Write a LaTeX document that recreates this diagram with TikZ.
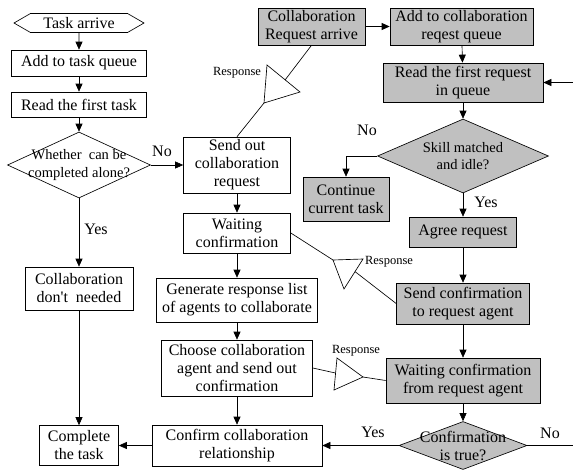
\documentclass[tikz,border=0pt]{standalone}
\usepackage{fontspec}
\setmainfont{Liberation Serif}
\usetikzlibrary{shapes.geometric,shapes.symbols,arrows.meta,calc}
\definecolor{boxgray}{RGB}{192,192,192}
\begin{document}
\begin{tikzpicture}[x=1pt, y=-1pt, line width=0.65pt, font=\fontsize{16}{18}\selectfont,
  box/.style={draw, rectangle, align=center, inner sep=1pt},
  dec/.style={draw, diamond, inner sep=0pt},
  dectext/.style={align=center, font=\fontsize{14.5}{17.5}\selectfont},
  arr/.style={-{Triangle[length=8pt,width=7pt]}},
  resp/.style={font=\fontsize{12.5}{14}\selectfont}]
\useasboundingbox (0,0) rectangle (573,469);
\node[draw, signal, signal to=west and east, signal pointer angle=60, minimum width=130pt, minimum height=19pt, inner sep=1pt] (arrive) at (79,23) {Task arrive};
\foreach \nm/\fc/\x/\y/\w/\h/\txt in {
    addq/white/79/63/135/26/{Add to task queue},
    readt/white/79/104.5/135/25/{Read the first task},
    noneed/white/79/288.5/108/43/{Collaboration\\don\textquotesingle t\ \ needed},
    complete/white/79/445.5/79/40/{Complete\\the task},
    sendreq/white/237/165/107/56/{Send out\\collaboration\\request},
    waitc/white/237/233/107/40/{Waiting\\confirmation},
    genlist/white/237/300/161/44/{Generate response list\\of agents to collaborate},
    choose/white/237/368/151/56/{Choose collaboration\\agent and send out\\confirmation},
    confirmrel/white/237/445.5/170/41/{Confirm collaboration\\relationship},
    reqarr/boxgray/311.5/26.5/107/37/{Collaboration\\Request arrive},
    addcq/boxgray/461.5/26.5/143/37/{Add to collaboration\\reqest queue},
    readreq/boxgray/463/82.5/160/39/{Read the first request\\in queue},
    cont/boxgray/346/199/86/44/{Continue\\current task},
    agree/boxgray/463/232/107/30/{Agree request},
    sendconf/boxgray/463/303.5/133/41/{Send confirmation\\to request agent},
    waitreq/boxgray/463/380.5/154/45/{Waiting confirmation\\from request agent}}
  \node[box, fill=\fc, minimum width=\w pt, minimum height=\h pt] (\nm) at (\x,\y) {\txt};
\node[dec, minimum width=143pt, minimum height=66pt, label={[dectext, name=alonetxt]center:{Whether\ \ can be\\completed alone?}}] (alone) at (79,165) {};
\node[dec, fill=boxgray, minimum width=171pt, minimum height=74pt, label={[dectext, name=skilltxt]center:{Skill matched\\and idle?}}] (skill) at (463,156) {};
\node[dec, fill=boxgray, minimum width=128pt, minimum height=48pt, label={[align=center, name=conftxt]center:{Confirmation\\is true?}}] (conftrue) at (463,445.5) {};
\foreach \a/\b in {arrive/addq, addq/readt, readt/alone, alone/noneed, noneed/complete, alone/sendreq,
    sendreq/waitc, waitc/genlist, genlist/choose, choose/confirmrel, confirmrel/complete,
    reqarr/addcq, addcq/readreq, readreq/skill, skill/agree, agree/sendconf, sendconf/waitreq,
    waitreq/conftrue, conftrue/confirmrel}
  \draw[arr] (\a) -- (\b);
\draw[arr] (skill.west) -| (cont.north);
\coordinate (rin) at (573,82.5);
\coordinate (rout) at (573,445.5);
\draw[arr] (rin) -- (readreq.east);
\draw (conftrue.east) -- (rout);
\foreach \nm/\p/\q/\r in {ta/{267,65}/{300,92}/{264,103}, tb/{333,260}/{363,259}/{344,289}, tc/{337,358}/{363,377}/{334,390}}
  \draw (\p) coordinate (\nm1) -- (\q) coordinate (\nm2) -- (\r) coordinate (\nm3) -- cycle;
\draw (reqarr.south) -- ($(ta1)!0.55!(ta2)$);
\draw (ta3) -- (sendreq.north);
\draw (waitc.east) -- (tb1);
\draw ($(tb2)!0.42!(tb3)$) -- (sendconf.west);
\draw (choose.east) -- ($(tc1)!0.47!(tc3)$);
\draw (tc2) -- (waitreq.west);
\node[resp] (resp1) at (237,73) {Response};
\node[resp] (resp2) at (389,262) {Response};
\node[resp] (resp3) at (356,351) {Response};
\node (noalone) at (162,151) {No};
\node (yesalone) at (96,229) {Yes};
\node (noskill) at (367,130) {No};
\node (yesskill) at (486,202) {Yes};
\node (yesconf) at (373,432) {Yes};
\node (noconf) at (550,433) {No};
\end{tikzpicture}
\end{document}
